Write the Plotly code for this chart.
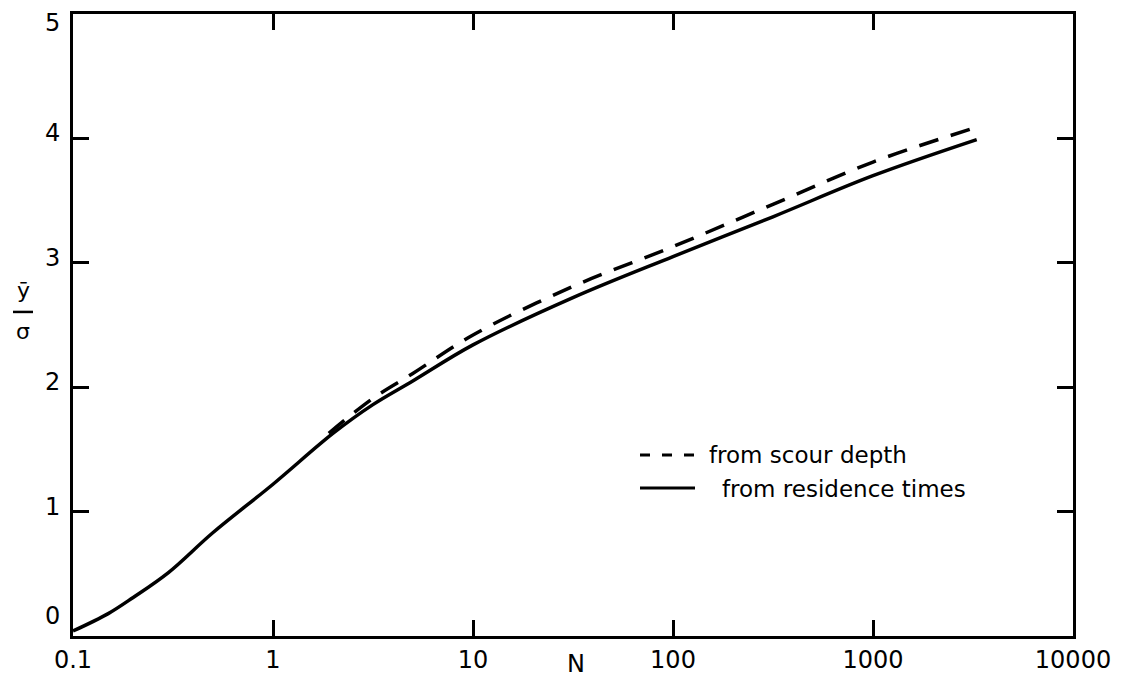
import plotly.graph_objects as go

# N values and mean/sigma ratios for the two estimates
n_residence = [0.1, 0.15, 0.2, 0.3, 0.5, 1, 2, 3.16, 5, 10, 31.6, 100, 316, 1000, 3300]
y_residence = [0.04, 0.18, 0.31, 0.51, 0.83, 1.22, 1.63, 1.86, 2.05, 2.34, 2.72, 3.05, 3.37, 3.70, 3.99]

n_scour = [1.9, 3.16, 5, 10, 31.6, 100, 316, 1000, 3300]
y_scour = [1.63, 1.91, 2.11, 2.42, 2.81, 3.13, 3.47, 3.81, 4.09]

x_tickvals = [0.1, 1, 10, 100, 1000, 10000]
x_ticktext = ["0.1", "1", "10", "100", "1000", "10000"]
y_tickvals = [0, 1, 2, 3, 4, 5]

FONT = "DejaVu Sans"
INK = "black"

fig = go.Figure()
fig.add_trace(go.Scatter(
    x=n_residence, y=y_residence, mode="lines", line_shape="spline",
    line=dict(color=INK, width=3.5), name="from residence times", showlegend=False,
))
fig.add_trace(go.Scatter(
    x=n_scour, y=y_scour, mode="lines", line_shape="spline",
    line=dict(color=INK, width=3.5, dash="20px,13px"), name="from scour depth", showlegend=False,
))

axis_common = dict(
    showline=True, linecolor=INK, linewidth=3, mirror="allticks",
    ticks="inside", ticklen=16, tickwidth=3, tickcolor=INK,
    showgrid=False, zeroline=False, automargin=False,
    tickfont=dict(family=FONT, size=24, color=INK),
)

fig.update_xaxes(type="log", range=[-1, 4], tickmode="array", tickvals=x_tickvals, ticktext=x_ticktext,
                 **axis_common)
# y tick labels are written as annotations so each can sit slightly off its tick
fig.update_yaxes(range=[0, 5], tickmode="array", tickvals=y_tickvals, showticklabels=False, **axis_common)

annotations = []
for v in y_tickvals:
    shift = 20 if v == 0 else (-9 if v == 5 else 5)
    annotations.append(dict(
        text=str(v), xref="paper", yref="y", x=-0.011, y=v, yshift=shift,
        xanchor="right", yanchor="middle", showarrow=False,
        font=dict(family=FONT, size=24, color=INK),
    ))

annotations += [
    dict(text="N", xref="paper", yref="paper", x=0.503, y=-0.045, xanchor="center", yanchor="middle",
         showarrow=False, font=dict(family=FONT, size=24, color=INK)),
    dict(text="ȳ", xref="paper", yref="paper", x=-0.05, y=0.555, xanchor="center", yanchor="middle",
         showarrow=False, font=dict(family=FONT, size=22, color=INK)),
    dict(text="σ", xref="paper", yref="paper", x=-0.05, y=0.49, xanchor="center", yanchor="middle",
         showarrow=False, font=dict(family=FONT, size=22, color=INK)),
    dict(text="from scour depth", xref="paper", yref="paper", x=0.634, y=0.291, xanchor="left", yanchor="middle",
         showarrow=False, font=dict(family=FONT, size=23, color=INK)),
    dict(text="from residence times", xref="paper", yref="paper", x=0.647, y=0.236, xanchor="left", yanchor="middle",
         showarrow=False, font=dict(family=FONT, size=23, color=INK)),
]

shapes = [
    # fraction bar of the y-axis label
    dict(type="line", xref="paper", yref="paper", x0=-0.06, x1=-0.04, y0=0.521, y1=0.521,
         line=dict(color=INK, width=2.5)),
    # legend keys
    dict(type="line", xref="paper", yref="paper", x0=0.567, x1=0.627, y0=0.291, y1=0.291,
         line=dict(color=INK, width=3, dash="10px,12px")),
    dict(type="line", xref="paper", yref="paper", x0=0.567, x1=0.622, y0=0.238, y1=0.238,
         line=dict(color=INK, width=3)),
]

fig.update_layout(
    width=1137, height=677,
    margin=dict(l=73, r=64, t=14, b=41),
    paper_bgcolor="white", plot_bgcolor="white",
    annotations=annotations, shapes=shapes,
    font=dict(family=FONT, color=INK),
)

fig.write_html("out.html")
